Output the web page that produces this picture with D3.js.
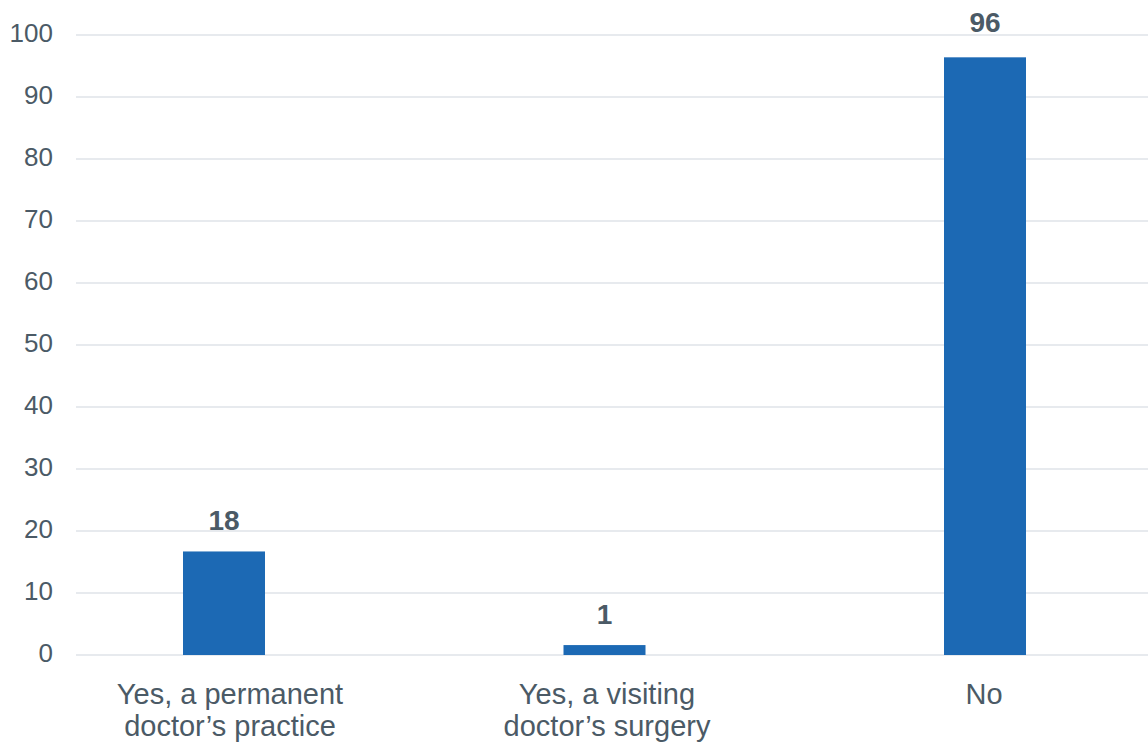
<!DOCTYPE html>
<html><head><meta charset="utf-8">
<script src="https://cdn.jsdelivr.net/npm/d3@7"></script>
<style>body{margin:0;background:#fff}svg{display:block}</style>
</head><body>
<svg id="c" width="1148" height="744"></svg>
<script>
const categories = [["Yes, a permanent","doctor\u2019s practice"],["Yes, a visiting","doctor\u2019s surgery"],["No"]];
const barValues = [16.7, 1.6, 96.4];
const valueLabels = ["18", "1", "96"];
const yTicks = [0,10,20,30,40,50,60,70,80,90,100];

const svg = d3.select("#c");
const textColor = "#4b5a66";
const y = d3.scaleLinear().domain([0,100]).range([655,35]);
const x = d3.scalePoint().domain(d3.range(categories.length)).range([224,985]);
const xLab = d3.scalePoint().domain(d3.range(categories.length)).range([230,984]);
const barW = 82;

// grid
svg.append("g").selectAll("line").data(yTicks).join("line")
  .attr("x1",76).attr("x2",1148)
  .attr("y1",d=>y(d)).attr("y2",d=>y(d))
  .attr("stroke","#dfe3e8").attr("stroke-width",1.5);

// y tick labels
svg.append("g").selectAll("text").data(yTicks).join("text")
  .attr("x",53).attr("y",d=>y(d)+7)
  .attr("text-anchor","end")
  .attr("font-family","Liberation Sans, Arial, sans-serif")
  .attr("font-size",26).attr("fill",textColor)
  .text(d=>d);

// bars
svg.append("g").selectAll("rect").data(barValues).join("rect")
  .attr("x",(d,i)=>x(i)-barW/2).attr("width",barW)
  .attr("y",d=>y(d)).attr("height",d=>y(0)-y(d))
  .attr("fill","#1c69b4");

// value labels
svg.append("g").selectAll("text").data(barValues).join("text")
  .attr("x",(d,i)=>x(i)).attr("y",d=>Math.min(y(d)-21, y(d)-21 < 40 ? 32 : 1e9))
  .attr("text-anchor","middle")
  .attr("font-family","Liberation Sans, Arial, sans-serif")
  .attr("font-weight","bold")
  .attr("font-size",28).attr("fill",textColor)
  .text((d,i)=>valueLabels[i]);

// category labels
const cl = svg.append("g").selectAll("text").data(categories).join("text")
  .attr("x",(d,i)=>xLab(i)).attr("y",704)
  .attr("text-anchor","middle")
  .attr("font-family","Liberation Sans, Arial, sans-serif")
  .attr("font-size",29).attr("fill",textColor);
cl.selectAll("tspan").data(d=>d).join("tspan")
  .attr("x",function(){return this.parentNode.getAttribute("x");})
  .attr("dy",(d,i)=>i===0?0:32)
  .text(d=>d);
</script>
</body></html>
